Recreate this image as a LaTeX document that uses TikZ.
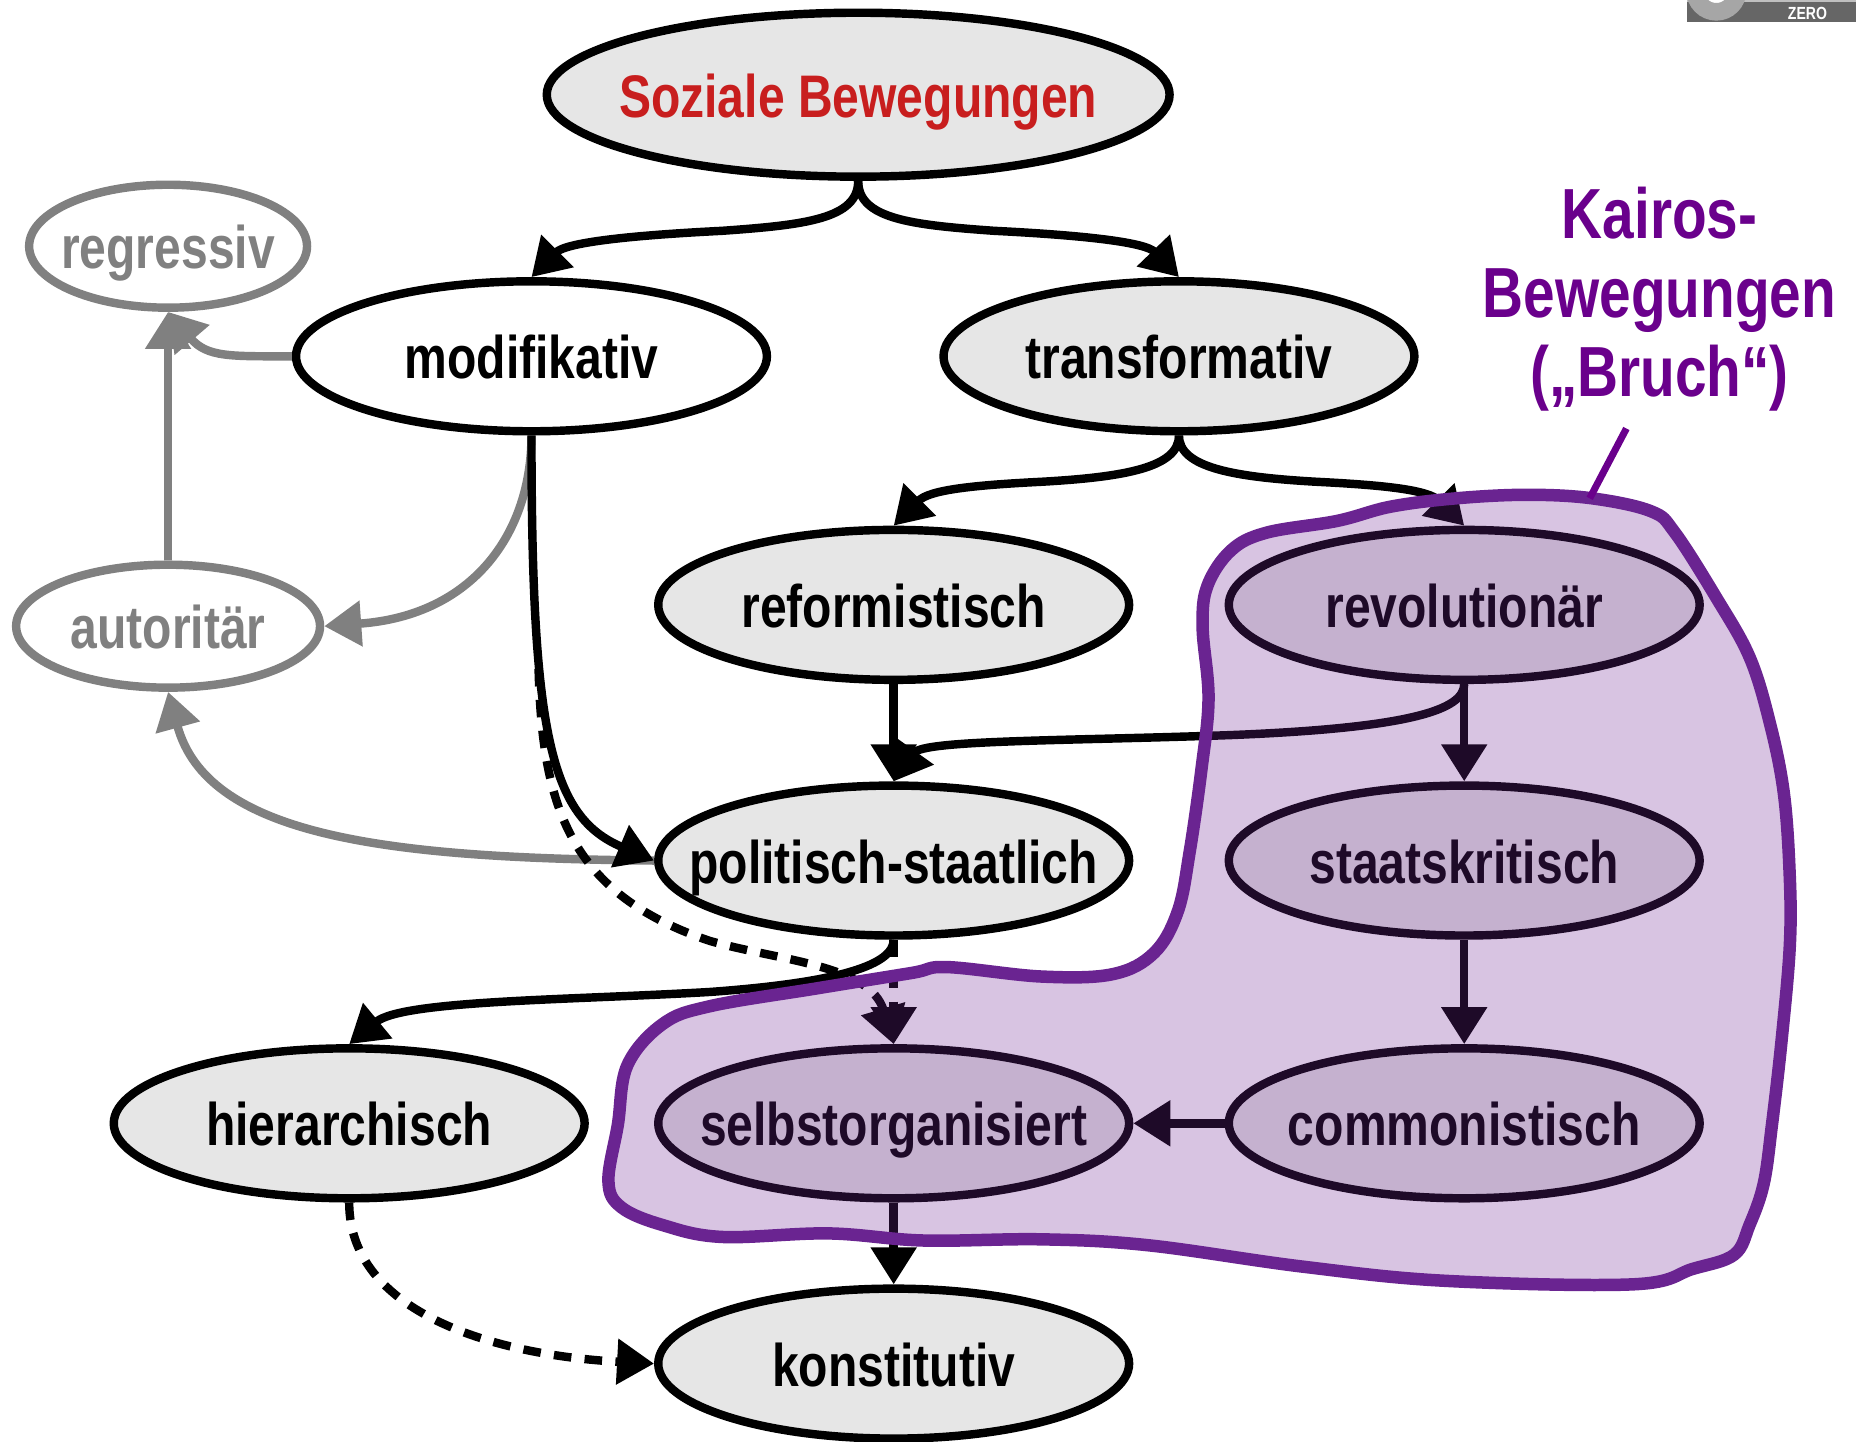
\documentclass[tikz,border=0pt]{standalone}
\usepackage{xcolor}
\usepackage{fontspec}
\setmainfont{Liberation Sans}[FakeStretch=0.8]
\usetikzlibrary{shapes.geometric,arrows.meta}
\newcommand{\lab}[1]{\makebox[0pt]{#1}}
\tikzset{
	bewegung/.style={ellipse,draw=black,line width=2.4pt,fill=mygrey,minimum width=4.71cm,minimum height=1.5cm,inner sep=0pt,text height=0.5cm,text depth=0.05cm,font=\fontsize{17.1pt}{20pt}\selectfont\bfseries},
	weiss/.style={bewegung,fill=white},
	alt/.style={weiss,draw=mymid,text=mymid,minimum width=3.04cm,minimum height=1.23cm},
	pfeil/.style={line width=2.4pt,-{Triangle[length=0.37cm,width=0.44cm]}},
	altpfeil/.style={pfeil,draw=mymid,-{Triangle[length=0.37cm,width=0.44cm,fill=mymid]}},
	strich/.style={pfeil,dash pattern=on 5pt off 3.8pt}
}
\begin{document}
\begin{tikzpicture}[x=0.011837cm,y=-0.011837cm]
	% 颜色列表
	\definecolor{mygrey}{RGB}{230,230,230}
	\definecolor{mymid}{RGB}{128,128,128}
	\definecolor{myred}{RGB}{200,30,30}
	\definecolor{mypurple}{RGB}{106,36,145}
	\definecolor{myblob}{RGB}{111,37,148}
	\definecolor{mykairos}{RGB}{106,0,140}
	\useasboundingbox (0,0) rectangle (1568,1218);
	
	% 右上角标记
	\begin{scope}
		\clip (1425,0) rectangle (1568,19);
		\fill[black!60] (1425,0) rectangle (1568,19);
		\fill[black!25] (1425,0) rectangle (1568,2);
		\filldraw[fill=white,draw=black!35,line width=5pt] (1450,-8) circle (18);
		\node[text=white,font=\fontsize{5pt}{5pt}\selectfont\bfseries,inner sep=0pt] (zero) at (1527,11) {ZERO};
	\end{scope}
	
	% 节点
	\node[bewegung,text=myred,minimum width=6.23cm,minimum height=1.64cm] (soz) at (725,80) {\lab{Soziale Bewegungen}};
	\node[alt,minimum width=2.78cm] (reg) at (142,208) {\lab{regressiv}};
	\node[weiss] (mod) at (449,301) {\lab{modifikativ}};
	\node[bewegung] (tra) at (996,301) {\lab{transformativ}};
	\node[alt] (aut) at (142,529) {\lab{autoritär}};
	\node[bewegung] (ref) at (755,511) {\lab{reformistisch}};
	\node[bewegung] (rev) at (1237,511) {\lab{revolutionär}};
	\node[bewegung] (pol) at (755,727) {\lab{politisch-staatlich}};
	\node[bewegung] (stk) at (1237,727) {\lab{staatskritisch}};
	\node[bewegung] (hie) at (295,949) {\lab{hierarchisch}};
	\node[bewegung] (sel) at (755,949) {\lab{selbstorganisiert}};
	\node[bewegung] (com) at (1237,949) {\lab{commonistisch}};
	\node[bewegung] (kon) at (755,1152) {\lab{konstitutiv}};
	
	% 灰色箭头
	\draw[altpfeil] (aut) -- (reg);
	\draw[altpfeil] (mod.west) .. controls (195,301) and (175,302) .. (reg.south);
	\draw[altpfeil] (mod.south) .. controls (449,450) and (400,520) .. (aut.east);
	\draw[altpfeil] (pol.west) .. controls (320,725) and (175,705) .. (aut.south);
	
	% 黑色箭头
	\foreach \a/\b in {ref/pol,rev/stk,stk/com,com/sel,sel/kon}
	\draw[pfeil] (\a) -- (\b);
	
	\draw[pfeil] (soz.south) .. controls (725,185) and (680,190) .. (610,195) .. controls (530,199) and (478,205) .. (mod.north);
	\draw[pfeil] (soz.south) .. controls (725,185) and (770,190) .. (840,195) .. controls (920,199) and (968,205) .. (tra.north);
	\draw[pfeil] (tra.south) .. controls (996,395) and (950,403) .. (880,407) .. controls (820,410) and (785,414) .. (ref.north);
	\draw[pfeil] (tra.south) .. controls (996,395) and (1042,403) .. (1112,407) .. controls (1172,410) and (1207,414) .. (rev.north);
	\draw[pfeil] (rev.south) .. controls (1237,600) and (1190,615) .. (1040,621) .. controls (900,626) and (780,625) .. (pol.north);
	\draw[pfeil] (pol.south) .. controls (755,815) and (710,830) .. (600,838) .. controls (480,845) and (340,845) .. (hie.north);
	\draw[pfeil] (mod.south) .. controls (449,620) and (465,690) .. (pol.west);
	
	% 虚线
	\draw[strich] (pol.south) -- (sel.north);
	\draw[strich] (455,565) .. controls (458,680) and (480,755) .. (600,795) .. controls (660,812) and (735,815) .. (sel.north);
	\draw[strich] (hie.south) .. controls (295,1110) and (420,1145) .. (kon.west);
	
	% 紫色区域
	\draw[draw=mypurple,fill=myblob,fill opacity=0.27,draw opacity=1,line width=0.125cm]
	plot[smooth cycle,tension=0.6] coordinates {(1345,421) (1290,418) (1230,421) (1175,428) (1130,440) (1070,450) (1040,465) (1020,495) (1016,530) (1021,590) (1015,650) (1005,720) (995,770) (975,805) (940,823) (880,825) (800,817) (770,822) (690,835) (600,850) (560,865) (530,900) (522,950) (514,998) (525,1020) (560,1035) (610,1045) (700,1042) (780,1048) (880,1047) (970,1052) (1100,1070) (1220,1082) (1380,1085) (1430,1072) (1465,1060) (1478,1035) (1490,1000) (1497,950) (1505,880) (1512,800) (1512,740) (1507,670) (1495,610) (1478,555) (1450,505) (1415,450) (1395,432)};
	
	% 标题
	\node[text=mykairos,align=center,inner sep=0pt,font=\fontsize{20.2pt}{22.5pt}\selectfont\bfseries] (kai) at (1402,253) {Kairos-\\Bewegungen\\(„Bruch“)};
	\coordinate (kaiend) at (1343,421);
	\draw[draw=mykairos,line width=0.07cm] (1374,362) -- (kaiend);
\end{tikzpicture}
\end{document}
